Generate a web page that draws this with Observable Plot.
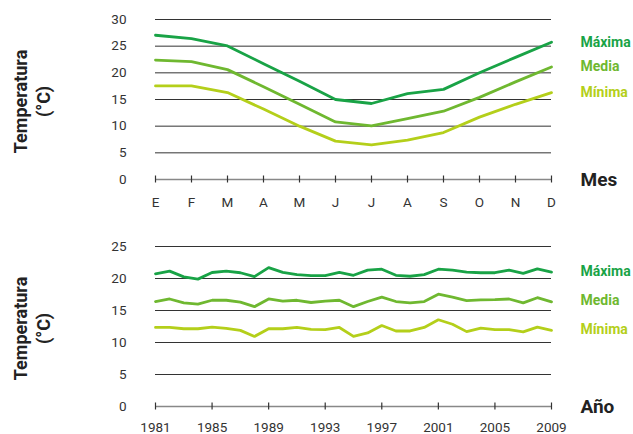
<!DOCTYPE html>
<html><head><meta charset="utf-8">
<script src="https://cdn.jsdelivr.net/npm/d3@7"></script>
<script src="https://cdn.jsdelivr.net/npm/@observablehq/plot@0.6"></script>
<style>
body{margin:0;background:#fff;font-family:Roboto,sans-serif}
#chart{width:633px;height:434px}
#chart svg{display:block}
</style>
</head><body><div id="chart"></div>
<script>
// ---- data ----
const series = ["Máxima", "Media", "Mínima"];
const seriesColors = ["#19a346", "#6fb830", "#b4cf1a"];

const monthLabels = ["E","F","M","A","M","J","J","A","S","O","N","D"];
const monthMax = [27.05, 26.4, 25.05, 21.7, 18.4, 15.0, 14.25, 16.1, 16.9, 20.0, 22.9, 25.75];
const monthMed = [22.4, 22.1, 20.6, 17.4, 14.1, 10.8, 10.05, 11.4, 12.8, 15.4, 18.3, 21.1];
const monthMin = [17.55, 17.55, 16.3, 13.2, 10.0, 7.2, 6.5, 7.4, 8.8, 11.7, 14.1, 16.3];
const yTicksTop = [0, 5, 10, 15, 20, 25, 30];

const years = [1981,1982,1983,1984,1985,1986,1987,1988,1989,1990,1991,1992,1993,1994,1995,
  1996,1997,1998,1999,2000,2001,2002,2003,2004,2005,2006,2007,2008,2009];
const yearMax = [20.73,21.15,20.26,19.9,20.94,21.15,20.9,20.3,21.7,20.95,20.6,20.45,20.45,20.95,20.5,
  21.3,21.45,20.5,20.35,20.6,21.45,21.3,21.0,20.9,20.9,21.3,20.8,21.5,21.0];
const yearMed = [16.4,16.8,16.2,16.0,16.6,16.6,16.3,15.6,16.8,16.45,16.6,16.25,16.45,16.6,15.6,
  16.4,17.1,16.4,16.2,16.4,17.55,17.1,16.55,16.65,16.7,16.8,16.2,17.0,16.35];
const yearMin = [12.35,12.35,12.15,12.15,12.4,12.2,11.9,10.95,12.15,12.15,12.35,12.05,12.0,12.35,10.95,
  11.5,12.65,11.8,11.8,12.35,13.55,12.85,11.7,12.25,12.0,12.0,11.65,12.4,11.9];
const yearTicks = [1981, 1985, 1989, 1993, 1997, 2001, 2005, 2009];
const yTicksBottom = [0, 5, 10, 15, 20, 25];

const yTitle = "Temperatura\n(°C)";
const xTitleTop = "Mes";
const xTitleBottom = "Año";

// ---- tables ----
const monthIdx = monthLabels.map((_, i) => i);
const monthRows = [];
[monthMax, monthMed, monthMin].forEach((arr, s) =>
  arr.forEach((v, i) => monthRows.push({x: i, y: v, serie: series[s]})));
const yearRows = [];
[yearMax, yearMed, yearMin].forEach((arr, s) =>
  arr.forEach((v, i) => yearRows.push({x: years[i], y: v, serie: series[s]})));

const font = "Roboto, sans-serif";

function panel({rows, xDomain, xTicks, xFormat, yDomain, yTicks, height, marginTop, marginBottom, xTitle, labelDy, xPad}) {
  return Plot.plot({
    width: 633,
    height,
    marginLeft: 155,
    marginRight: 82,
    marginTop,
    marginBottom,
    style: {fontFamily: font, fontSize: "13.5px", color: "#333", background: "#fff", overflow: "visible"},
    x: {domain: xDomain, ticks: xTicks, tickFormat: xFormat, tickSize: 0, tickPadding: xPad, label: null},
    y: {domain: yDomain, ticks: yTicks, tickSize: 0, tickPadding: 29, label: null},
    color: {domain: series, range: seriesColors},
    marks: [
      Plot.ruleY(yTicks.filter(d => d > 0), {stroke: "#333", strokeWidth: 1}),
      Plot.ruleY([0], {stroke: "#888", strokeWidth: 1.6}),
      Plot.ruleX(xTicks, {x: d => d, y1: 0, y2: 0, insetTop: -3.5, insetBottom: -3.5, stroke: "#333", strokeWidth: 1.2}),
      Plot.line(rows, {x: "x", y: "y", z: "serie", stroke: "serie", strokeWidth: 2.8, strokeLinejoin: "round"}),
      Plot.text(rows, Plot.selectLast({x: "x", y: "y", z: "serie", text: "serie", fill: "serie",
        dx: 29, dy: labelDy, textAnchor: "start", fontWeight: "bold", fontSize: 14})),
      Plot.text([xTitle], {frameAnchor: "bottom-right", text: d => d, dx: 29, textAnchor: "start",
        lineAnchor: "middle", fontWeight: "bold", fontSize: 19, fill: "#222"}),
      Plot.text([yTitle], {frameAnchor: "left", text: d => d, rotate: -90, dx: -124, dy: 2,
        textAnchor: "middle", lineAnchor: "middle",
        lineHeight: 1.25, fontWeight: "bold", fontSize: 18, fill: "#222"})
    ]
  });
}

const topPanel = panel({
  rows: monthRows, xDomain: [0, 11], xTicks: monthIdx, xFormat: i => monthLabels[i],
  yDomain: [0, 30], yTicks: yTicksTop, height: 215, marginTop: 19, marginBottom: 36,
  xTitle: xTitleTop, labelDy: 0, xPad: 18
});
const bottomPanel = panel({
  rows: yearRows, xDomain: [1981, 2009], xTicks: yearTicks, xFormat: d => String(d),
  yDomain: [0, 25], yTicks: yTicksBottom, height: 219, marginTop: 31, marginBottom: 28,
  xTitle: xTitleBottom, labelDy: -1, xPad: 16
});
document.getElementById("chart").append(topPanel, bottomPanel);
</script></body></html>
